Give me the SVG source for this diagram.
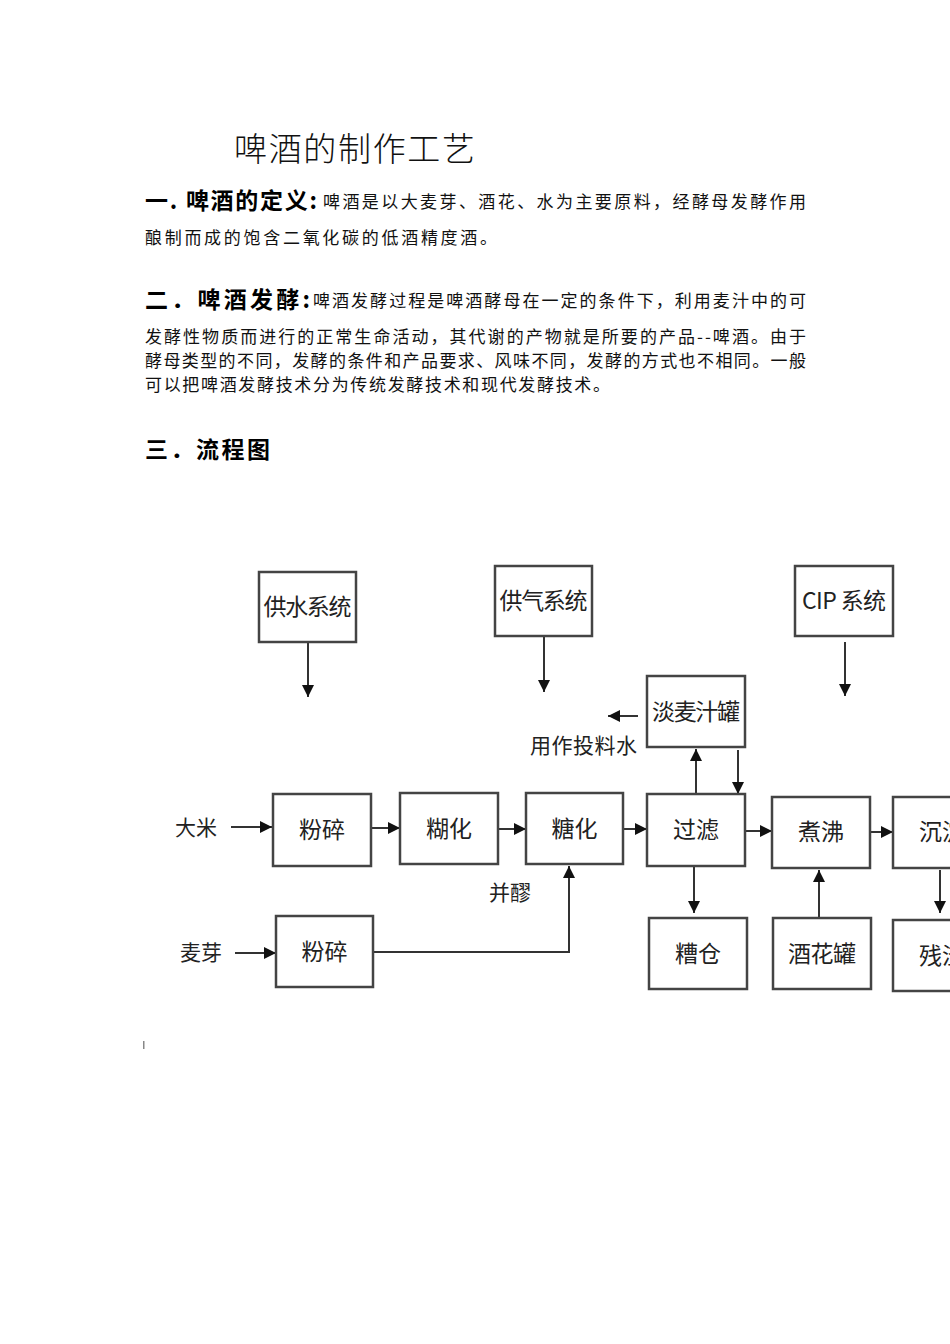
<svg xmlns="http://www.w3.org/2000/svg" width="950" height="1344" viewBox="0 0 950 1344">
<style>
.t{font-family:"Noto Sans CJK SC","Noto Sans",sans-serif;fill:#111}
.h{font-family:"Noto Sans CJK SC","Noto Sans",sans-serif;font-weight:bold;fill:#000}
.b{font-family:"Noto Sans CJK SC","Noto Sans",sans-serif;font-size:17px;fill:#111}
.box rect{fill:#fff;stroke:#444;stroke-width:2.5}
.box text{font-family:"Noto Sans CJK SC","Noto Sans",sans-serif;font-size:23px;fill:#222;text-anchor:middle}
.lbl{font-family:"Noto Sans CJK SC","Noto Sans",sans-serif;font-size:21px;fill:#222}
#connectors path{fill:none;stroke:#333;stroke-width:2}
</style>
<defs>
<marker id="ah" viewBox="0 0 10 10" refX="10" refY="5" markerWidth="6" markerHeight="6" orient="auto" markerUnits="strokeWidth">
<path d="M0,0 L10,5 L0,10 z" fill="#111"/>
</marker>
</defs>
<rect width="950" height="1344" fill="#fff"/>

<g id="heading">
<text class="t" x="234" y="161" font-size="33" textLength="241" font-weight="300">啤酒的制作工艺</text>
<text class="h" x="145" y="209" font-size="23" textLength="172">一. 啤酒的定义:</text>
<text class="b" x="323" y="208" textLength="483">啤酒是以大麦芽、酒花、水为主要原料，经酵母发酵作用</text>
<text class="b" x="145" y="244" textLength="352">酿制而成的饱含二氧化碳的低酒精度酒。</text>
<text class="h" x="145" y="308" font-size="23" textLength="165">二．啤酒发酵:</text>
<text class="b" x="313" y="307" textLength="493">啤酒发酵过程是啤酒酵母在一定的条件下，利用麦汁中的可</text>
<text class="b" x="145" y="343" textLength="661">发酵性物质而进行的正常生命活动，其代谢的产物就是所要的产品--啤酒。由于</text>
<text class="b" x="145" y="367" textLength="661">酵母类型的不同，发酵的条件和产品要求、风味不同，发酵的方式也不相同。一般</text>
<text class="b" x="145" y="391" textLength="465">可以把啤酒发酵技术分为传统发酵技术和现代发酵技术。</text>
<text class="h" x="145" y="458" font-size="23" textLength="125">三．流程图</text>
</g>

<g id="connectors">
<path d="M308,642 V697" marker-end="url(#ah)"/>
<path d="M544,636 V692" marker-end="url(#ah)"/>
<path d="M845,642 V696" marker-end="url(#ah)"/>
<path d="M638,716 H608" marker-end="url(#ah)"/>
<path d="M696,794 V749" marker-end="url(#ah)"/>
<path d="M738,750 V794" marker-end="url(#ah)"/>
<path d="M231,827 H272" marker-end="url(#ah)"/>
<path d="M371,828 H400" marker-end="url(#ah)"/>
<path d="M498,829 H526" marker-end="url(#ah)"/>
<path d="M623,829 H647" marker-end="url(#ah)"/>
<path d="M745,831 H772" marker-end="url(#ah)"/>
<path d="M870,832 H893" marker-end="url(#ah)"/>
<path d="M694,866 V913" marker-end="url(#ah)"/>
<path d="M819,918 V870" marker-end="url(#ah)"/>
<path d="M940,870 V913" marker-end="url(#ah)"/>
<path d="M235,953 H276" marker-end="url(#ah)"/>
<path d="M373,952 H569 V866" marker-end="url(#ah)"/>
</g>

<g id="n-water" class="box"><rect x="259" y="572" width="97" height="70"/><text x="307.5" y="615" textLength="88">供水系统</text></g>
<g id="n-gas" class="box"><rect x="495" y="566" width="97" height="70"/><text x="543.5" y="609" textLength="88">供气系统</text></g>
<g id="n-cip" class="box"><rect x="795" y="566" width="98" height="70"/><text x="844" y="609" textLength="84">CIP 系统</text></g>
<g id="n-tank" class="box"><rect x="647" y="676" width="98" height="71"/><text x="696" y="720" textLength="88">淡麦汁罐</text></g>
<g id="n-crush1" class="box"><rect x="273" y="794" width="98" height="72"/><text x="322" y="838">粉碎</text></g>
<g id="n-gelat" class="box"><rect x="400" y="793" width="98" height="71"/><text x="449" y="837">糊化</text></g>
<g id="n-sacch" class="box"><rect x="526" y="793" width="97" height="71"/><text x="574.5" y="837">糖化</text></g>
<g id="n-filter" class="box"><rect x="647" y="794" width="98" height="72"/><text x="696" y="838">过滤</text></g>
<g id="n-boil" class="box"><rect x="772" y="797" width="98" height="71"/><text x="821" y="840">煮沸</text></g>
<g id="n-settle" class="box"><rect x="893" y="797" width="98" height="71"/><text x="942" y="840">沉淀</text></g>
<g id="n-spent" class="box"><rect x="649" y="918" width="98" height="71"/><text x="698" y="962">糟仓</text></g>
<g id="n-hop" class="box"><rect x="773" y="918" width="98" height="71"/><text x="822" y="962" textLength="68">酒花罐</text></g>
<g id="n-residue" class="box"><rect x="893" y="920" width="98" height="71"/><text x="942" y="964">残渣</text></g>
<g id="n-crush2" class="box"><rect x="276" y="916" width="97" height="71"/><text x="324.5" y="960">粉碎</text></g>

<g id="labels">
<text class="lbl" x="175" y="835">大米</text>
<text class="lbl" x="180" y="960">麦芽</text>
<text class="lbl" x="489" y="900">并醪</text>
<text class="lbl" x="530" y="753" textLength="107">用作投料水</text>
</g>
<rect x="143" y="1041" width="1.5" height="8" fill="#888"/>
</svg>
